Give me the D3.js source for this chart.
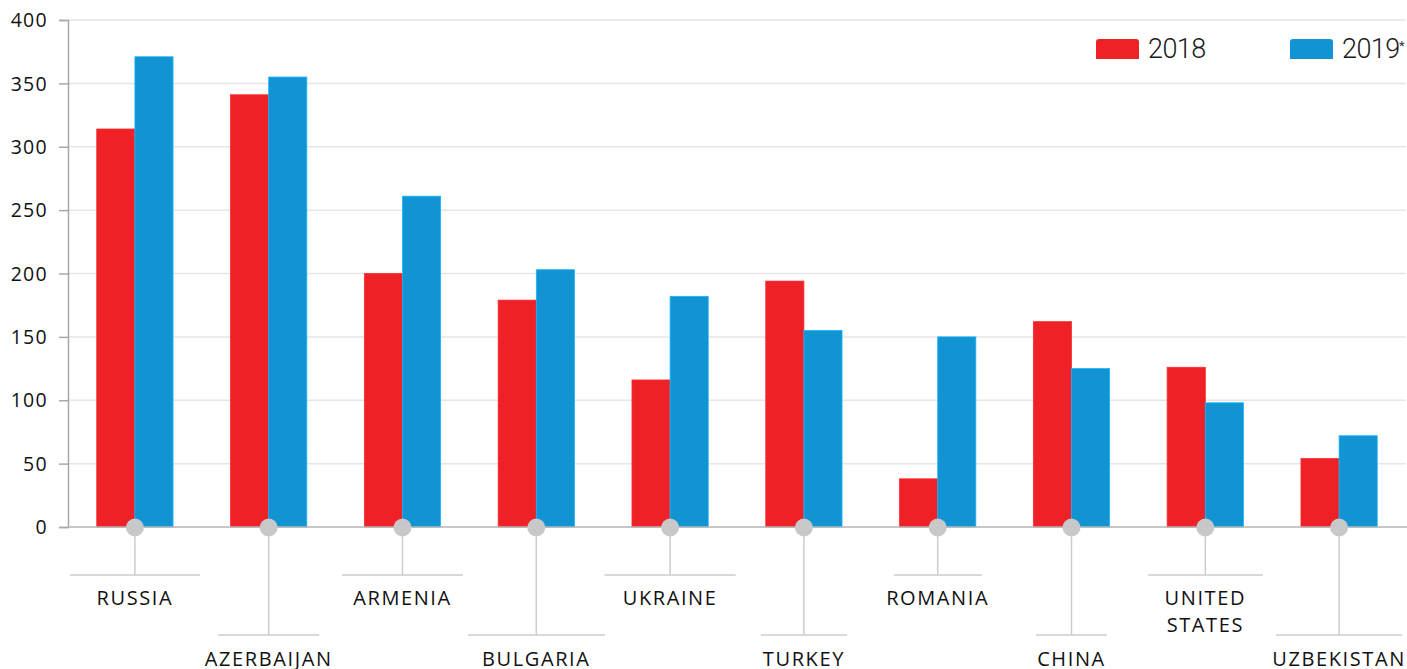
<!DOCTYPE html>
<html>
<head>
<meta charset="utf-8">
<script src="https://cdn.jsdelivr.net/npm/d3@7/dist/d3.min.js"></script>
<style>
	html, body { margin: 0; padding: 0; background: #fff; }
	svg { display: block; }
	.tick text { font-family: "Open Sans", sans-serif; }
</style>
</head>
<body>
<svg id="chart" width="1407" height="669"></svg>
<script>
// data
var countries = ["RUSSIA", "AZERBAIJAN", "ARMENIA", "BULGARIA", "UKRAINE", "TURKEY", "ROMANIA", "CHINA", "UNITED STATES", "UZBEKISTAN"];
var values2018 = [314, 341, 200, 179, 116, 194, 38, 162, 126, 54];
var values2019 = [371, 355, 261, 203, 182, 155, 150, 125, 98, 72];
var seriesNames = ["2018", "2019"];
var yTicks = [0, 50, 100, 150, 200, 250, 300, 350, 400];

var colors = { "2018": "#ed2126", "2019": "#1293d2" };
// width of the little shelf under each label
var shelfWidth = [130, 101, 121, 137, 131, 86, 88, 71, 115, 126];

var svg = d3.select("#chart");
var plotLeft = 68, plotRight = 1406, plotTop = 20, plotBottom = 527;

var x0 = d3.scaleBand()
	.domain(countries)
	.range([plotLeft, plotRight])
	.paddingInner(0.43)
	.paddingOuter(0.215);
var x1 = d3.scaleBand()
	.domain(seriesNames)
	.range([0, x0.bandwidth()]);
var y = d3.scaleLinear()
	.domain([0, 400])
	.range([plotBottom, plotTop]);

// gridlines
svg.append("g")
	.selectAll("line")
	.data(yTicks.slice(1))
	.join("line")
	.attr("x1", plotLeft).attr("x2", plotRight)
	.attr("y1", function(d) { return y(d); })
	.attr("y2", function(d) { return y(d); })
	.attr("stroke", "#e6e6e6")
	.attr("stroke-width", 1.5);

// y axis
var yAxis = svg.append("g")
	.attr("transform", "translate(" + plotLeft + ",0)")
	.call(d3.axisLeft(y).tickValues(yTicks).tickSize(9).tickPadding(11));
yAxis.select(".domain").attr("stroke", "#a8a8a8").attr("stroke-width", 1.5);
yAxis.selectAll(".tick line").attr("stroke", "#a8a8a8").attr("stroke-width", 1.5);
yAxis.selectAll(".tick text")
	.attr("font-size", 19.5)
	.attr("letter-spacing", 1.3)
	.attr("fill", "#111")
	.attr("dy", "0.34em");

// bars
var rows = countries.map(function(c, i) {
	return { country: c, vals: [{ key: "2018", v: values2018[i] }, { key: "2019", v: values2019[i] }] };
});
var groups = svg.append("g")
	.selectAll("g")
	.data(rows)
	.join("g")
	.attr("transform", function(d) { return "translate(" + x0(d.country) + ",0)"; });
groups.selectAll("rect")
	.data(function(d) { return d.vals; })
	.join("rect")
	.attr("x", function(d) { return x1(d.key); })
	.attr("width", x1.bandwidth())
	.attr("y", function(d) { return y(d.v); })
	.attr("height", function(d) { return y(0) - y(d.v); })
	.attr("fill", function(d) { return colors[d.key]; })
	.attr("stroke", function(d) { return d3.color(colors[d.key]).brighter(0.6); })
	.attr("stroke-width", 0.8);

// baseline
svg.append("line")
	.attr("x1", plotLeft).attr("x2", 1407)
	.attr("y1", y(0)).attr("y2", y(0))
	.attr("stroke", "#b4b4b4")
	.attr("stroke-width", 1.5);

// leader lines, dots and labels
var leaders = svg.append("g");
countries.forEach(function(c, i) {
	var cx = x0(c) + x0.bandwidth() / 2;
	var low = i % 2 == 1;
	var shelfY = low ? 635 : 575;
	var g = leaders.append("g");
	g.append("line")
		.attr("x1", cx).attr("x2", cx)
		.attr("y1", y(0)).attr("y2", shelfY)
		.attr("stroke", "#cccccc").attr("stroke-width", 1.5);
	g.append("line")
		.attr("x1", cx - shelfWidth[i] / 2).attr("x2", cx + shelfWidth[i] / 2)
		.attr("y1", shelfY).attr("y2", shelfY)
		.attr("stroke", "#cccccc").attr("stroke-width", 1.5);
	g.append("circle")
		.attr("cx", cx).attr("cy", y(0) + 0.5)
		.attr("r", 9)
		.attr("fill", "#c8c8ca");
	var words = c == "UNITED STATES" ? ["UNITED", "STATES"] : [c];
	var t = g.append("text")
		.attr("x", cx)
		.attr("y", low ? 666 : 605)
		.attr("text-anchor", "middle")
		.attr("font-family", "Open Sans, sans-serif")
		.attr("font-size", 20)
		.attr("letter-spacing", 1.6)
		.attr("fill", "#111");
	words.forEach(function(w, k) {
		t.append("tspan")
			.attr("x", cx)
			.attr("dy", k == 0 ? 0 : 27)
			.text(w);
	});
});

// legend
var legendX = [1096, 1290];
var legend = svg.append("g");
seriesNames.forEach(function(s, i) {
	var lx = legendX[i];
	legend.append("path")
		.attr("d", "M" + lx + ",59 V42 Q" + lx + ",39 " + (lx + 3) + ",39 H" + (lx + 40) +
			" Q" + (lx + 43) + ",39 " + (lx + 43) + ",42 V59 Z")
		.attr("fill", colors[s]);
	legend.append("text")
		.attr("x", lx + 52)
		.attr("y", 57.5)
		.attr("font-family", "Roboto, sans-serif")
		.attr("font-weight", 300)
		.attr("font-size", 27)
		.attr("letter-spacing", -0.6)
		.attr("fill", "#1a1a1a")
		.text(s);
	if (s == "2019") {
		legend.append("text")
			.attr("x", lx + 109)
			.attr("y", 50)
			.attr("font-family", "Roboto, sans-serif")
			.attr("font-size", 13)
			.attr("fill", "#333")
			.text("*");
	}
});
</script>
</body>
</html>
